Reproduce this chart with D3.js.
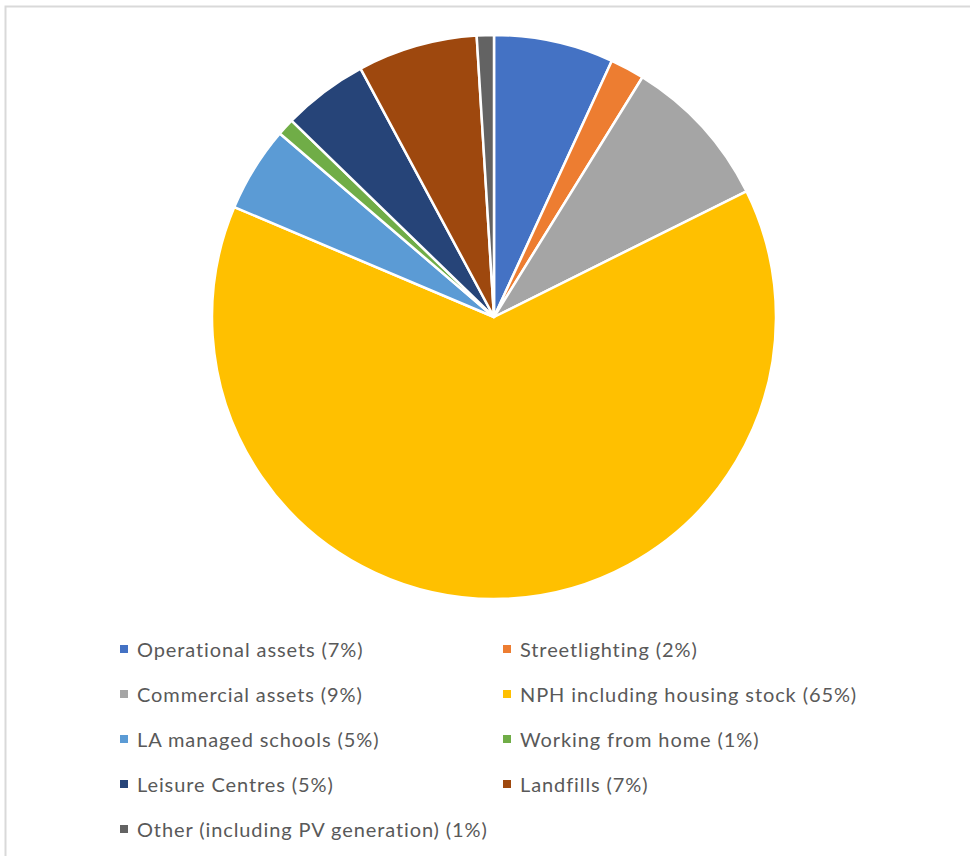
<!DOCTYPE html>
<html>
<head>
<meta charset="utf-8">
<script src="https://cdn.jsdelivr.net/npm/d3@7"></script>
<style>
  html, body { margin: 0; padding: 0; background: #fff; }
  svg { display: block; }
</style>
</head>
<body>
<svg id="chart" width="970" height="856"></svg>
<script>
// Share of emissions by source, in legend order (clockwise from 12 o'clock)
const categories = [
  "Operational assets",
  "Streetlighting",
  "Commercial assets",
  "NPH including housing stock",
  "LA managed schools",
  "Working from home",
  "Leisure Centres",
  "Landfills",
  "Other (including PV generation)"
];
const shares = [7, 2, 9, 65, 5, 1, 5, 7, 1];
const colors = ["#4472C4", "#ED7D31", "#A5A5A5", "#FFC000", "#5B9BD5",
                "#70AD47", "#264478", "#9E480E", "#636363"];

const data = categories.map((name, i) => ({ name, value: shares[i], color: colors[i] }));

const svg = d3.select("#chart");

// Chart area frame
svg.append("rect")
  .attr("x", 5.5)
  .attr("y", 6.5)
  .attr("width", 1000)
  .attr("height", 900)
  .attr("fill", "#fff")
  .attr("stroke", "#D9D9D9")
  .attr("stroke-width", 2);

// Pie
const cx = 494, cy = 317, radius = 282;
const pie = d3.pie().sort(null).value(d => d.value).startAngle(0).endAngle(2 * Math.PI);
const arc = d3.arc().innerRadius(0).outerRadius(radius);

svg.append("g")
  .attr("transform", `translate(${cx},${cy})`)
  .selectAll("path")
  .data(pie(data))
  .join("path")
  .attr("d", arc)
  .attr("fill", d => d.data.color)
  .attr("stroke", "#fff")
  .attr("stroke-width", 2.5)
  .attr("stroke-linejoin", "round");

// Legend: two columns, filled row by row
const colX = [120, 503];
const rowY0 = 649, rowStep = 45;
const legend = svg.append("g")
  .attr("font-family", "Lato, 'Open Sans', sans-serif")
  .attr("font-size", 20)
  .attr("letter-spacing", 0.9)
  .attr("fill", "#595959");

const items = legend.selectAll("g")
  .data(data)
  .join("g")
  .attr("transform", (d, i) => `translate(${colX[i % 2]},${rowY0 + Math.floor(i / 2) * rowStep})`);

items.append("rect")
  .attr("x", 0)
  .attr("y", -4)
  .attr("width", 8)
  .attr("height", 8)
  .attr("fill", d => d.color);

items.append("text")
  .attr("x", 17)
  .attr("y", 0)
  .attr("dominant-baseline", "central")
  .text(d => `${d.name} (${d.value}%)`);
</script>
</body>
</html>
